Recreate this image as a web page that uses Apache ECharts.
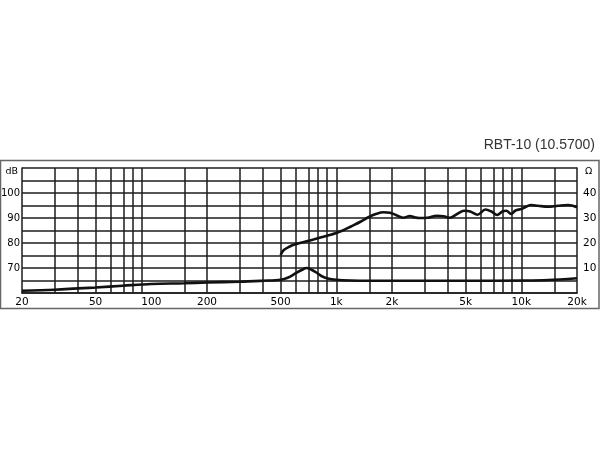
<!DOCTYPE html>
<html>
<head>
<meta charset="utf-8">
<script src="https://cdn.jsdelivr.net/npm/echarts@6/dist/echarts.min.js"></script>
<style>
html,body{margin:0;padding:0;background:#fff;}
#c{width:600px;height:450px;}
</style>
</head>
<body>
<div id="c"></div>
<script>
// ---- data ----
var title = 'RBT-10 (10.5700)';
var xLabelFreqs = [20, 50, 100, 200, 500, 1000, 2000, 5000, 10000, 20000];
var gridFreqs = [30, 40, 50, 60, 70, 80, 90, 150, 200, 300, 400, 500, 600, 700, 800, 900,
  1000, 1500, 2000, 3000, 4000, 5000, 6000, 7000, 8000, 9000, 10000, 15000];
var splFreqs = [500, 520, 560, 600, 650, 700, 760, 830, 900, 1000, 1100, 1200, 1350, 1500, 1650,
  1800, 1950, 2100, 2300, 2500, 2650, 2800, 3100, 3500, 3800, 4100, 4500, 4900, 5300, 5800,
  6400, 6900, 7400, 7900, 8300, 8800, 9300, 10000, 10600, 11300, 12300, 13900, 15800, 17900, 20000];
var splDb = [75.2, 77.2, 78.6, 79.5, 80.2, 80.8, 81.5, 82.3, 83.0, 84.0, 85.2, 86.6, 88.5, 90.4, 91.7,
  92.3, 92.1, 91.2, 90.1, 90.8, 90.3, 90.0, 90.1, 90.9, 90.7, 90.1, 91.6, 92.9, 92.6, 91.3,
  93.4, 92.6, 91.2, 92.6, 92.9, 91.6, 93.0, 93.6, 94.5, 95.2, 94.9, 94.5, 94.9, 95.2, 94.3];
var impFreqs = [20, 30, 50, 70, 100, 150, 200, 300, 400, 500, 550, 600, 650, 690, 730, 780, 830, 900,
  1000, 1200, 1500, 2000, 5000, 10000, 14000, 20000];
var impOhm = [0.9, 1.3, 2.2, 2.9, 3.6, 3.9, 4.2, 4.5, 4.9, 5.3, 6.2, 7.8, 9.2, 10.0, 9.4, 8.2, 6.8, 5.8,
  5.3, 5.0, 4.9, 4.9, 4.9, 5.0, 5.2, 5.9];
var dbTicks = [70, 80, 90, 100];
var ohmTicks = [10, 20, 30, 40];

// ---- chart ----
var L = Math.log10;
function pairs(fs, vs) { return fs.map(function (f, i) { return [L(f), vs[i]]; }); }
var ink = '#1c1c1c';
var font = 'DejaVu Sans';

var chart = echarts.init(document.getElementById('c'), null, {renderer: 'canvas'});
chart.setOption({
  animation: false,
  backgroundColor: '#fff',
  title: {
    text: title, right: 0, top: 133,
    textStyle: {fontFamily: 'Liberation Sans', fontSize: 14, fontWeight: 'normal', color: '#333'}
  },
  graphic: [{
    type: 'rect', shape: {x: 0.5, y: 160.5, width: 598.5, height: 148},
    style: {fill: 'none', stroke: '#666', lineWidth: 1.5}, z: 0
  }],
  grid: {left: 22, right: 23, top: 168, bottom: 157, containLabel: false, outerBoundsMode: 'none'},
  xAxis: {
    type: 'value', min: L(20), max: L(20000),
    axisLine: {show: true, lineStyle: {color: ink, width: 1.5}},
    axisTick: {show: false},
    splitLine: {show: false},
    axisLabel: {
      customValues: xLabelFreqs.map(L),
      margin: 4,
      fontFamily: font, fontSize: 10.5, color: '#000',
      formatter: function (v) {
        var f = Math.round(Math.pow(10, v));
        return f >= 1000 ? (f / 1000) + 'k' : String(f);
      }
    }
  },
  yAxis: [{
    type: 'value', min: 60, max: 110, interval: 5,
    axisLine: {show: true, lineStyle: {color: ink, width: 1.5}},
    axisTick: {show: false},
    splitLine: {show: true, lineStyle: {color: ink, width: 1.5}},
    axisLabel: {
      margin: 2, fontFamily: font, fontSize: 10, color: '#000',
      formatter: function (v) {
        if (v === 110) return '{u|dB}';
        return dbTicks.indexOf(v) >= 0 ? String(v) : '';
      },
      rich: {u: {fontFamily: font, fontSize: 9.5, color: '#000', padding: [8, 2, 0, 0]}}
    }
  }, {
    type: 'value', min: 0, max: 50, interval: 5, position: 'right',
    axisLine: {show: true, lineStyle: {color: ink, width: 1.5}},
    axisTick: {show: false},
    splitLine: {show: false},
    axisLabel: {
      margin: 6, fontFamily: font, fontSize: 10.5, color: '#000',
      formatter: function (v) {
        if (v === 50) return '{u|Ω}';
        return ohmTicks.indexOf(v) >= 0 ? String(v) : '';
      },
      rich: {u: {fontFamily: font, fontSize: 9.5, color: '#000', padding: [8, 0, 0, 2]}}
    }
  }],
  series: [{
    name: 'grid', type: 'line', data: [], z: 1, silent: true,
    markLine: {
      silent: true, symbol: ['none', 'none'], label: {show: false},
      lineStyle: {color: ink, type: 'solid', width: 1.5},
      data: gridFreqs.map(function (f) { return {xAxis: L(f)}; })
    }
  }, {
    name: 'SPL', type: 'line', yAxisIndex: 0, z: 5,
    data: pairs(splFreqs, splDb), smooth: 0.35, showSymbol: false,
    lineStyle: {color: '#111', width: 2.6}
  }, {
    name: 'Impedance', type: 'line', yAxisIndex: 1, z: 5,
    data: pairs(impFreqs, impOhm), smooth: 0.35, showSymbol: false,
    lineStyle: {color: '#111', width: 2.6}
  }]
});
</script>
</body>
</html>
